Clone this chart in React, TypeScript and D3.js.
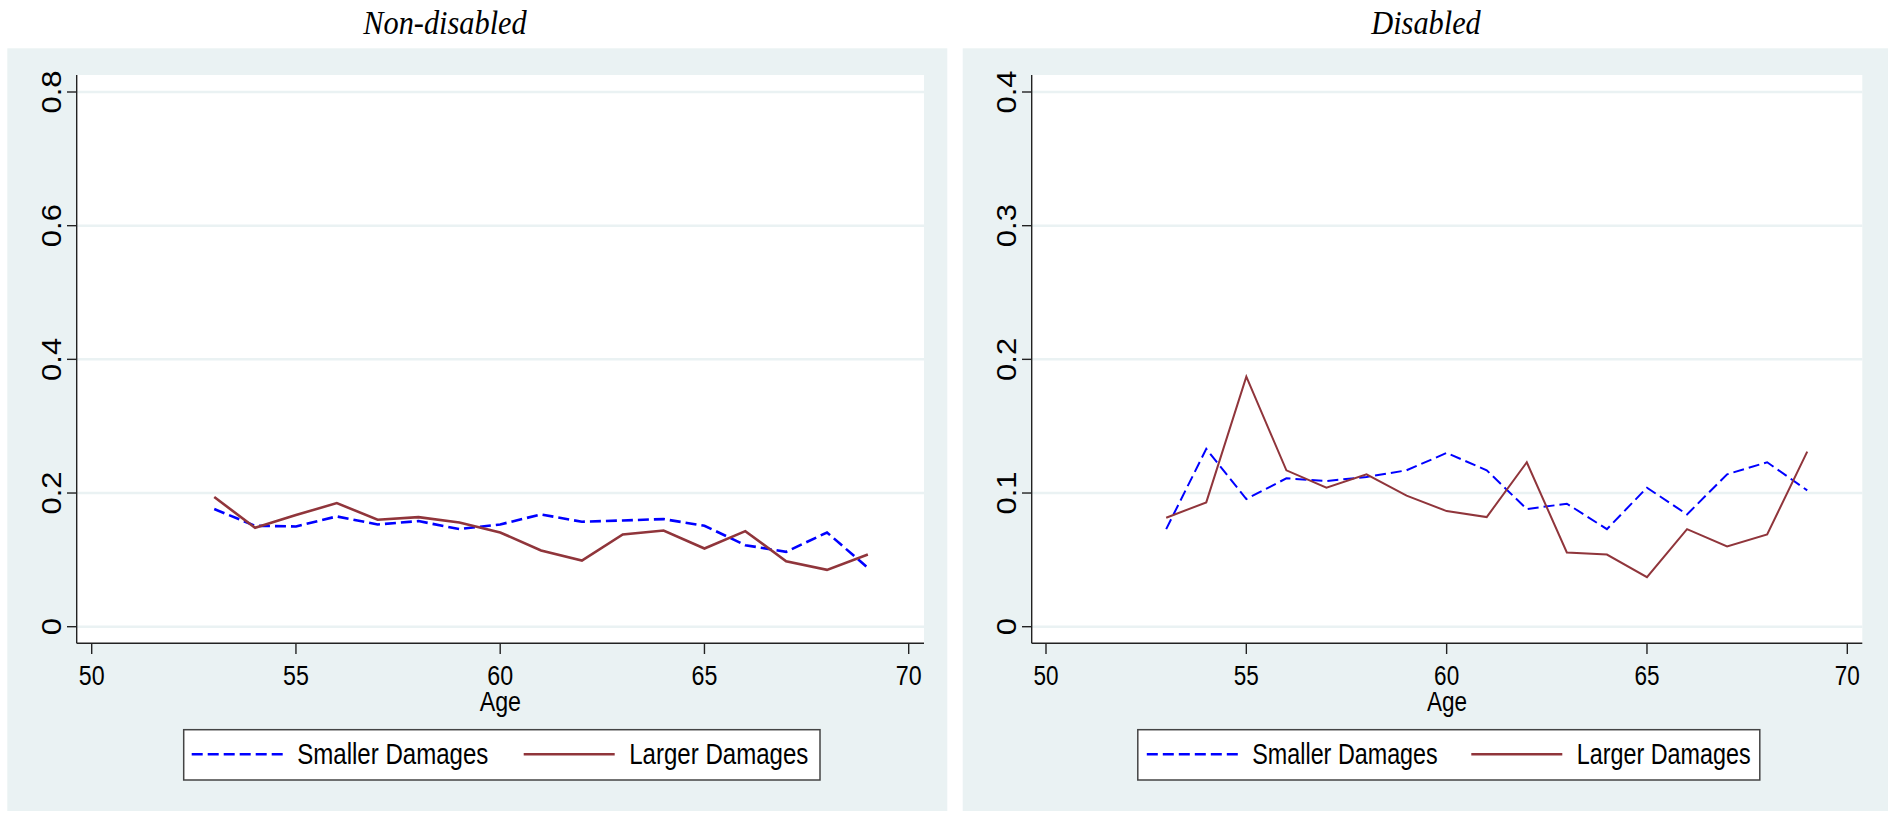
import React from "react";
import { scaleLinear, line } from "d3";

const ages = [53, 54, 55, 56, 57, 58, 59, 60, 61, 62, 63, 64, 65, 66, 67, 68, 69];

const nonDisabledSmaller = [0.176, 0.151, 0.15, 0.165, 0.153, 0.158, 0.146, 0.153, 0.168, 0.157, 0.159, 0.161, 0.151, 0.122, 0.112, 0.141, 0.088];
const nonDisabledLarger = [0.194, 0.148, 0.167, 0.185, 0.16, 0.164, 0.156, 0.141, 0.114, 0.099, 0.138, 0.144, 0.117, 0.143, 0.098, 0.085, 0.108];
const disabledSmaller = [0.073, 0.133, 0.0955, 0.111, 0.109, 0.112, 0.117, 0.13, 0.117, 0.088, 0.092, 0.073, 0.104, 0.084, 0.114, 0.123, 0.102];
const disabledLarger = [0.0815, 0.093, 0.187, 0.117, 0.104, 0.114, 0.098, 0.0865, 0.082, 0.123, 0.0555, 0.054, 0.037, 0.073, 0.06, 0.069, 0.131];

const xTicks = [50, 55, 60, 65, 70];
const nonDisabledYTicks = [0, 0.2, 0.4, 0.6, 0.8];
const disabledYTicks = [0, 0.1, 0.2, 0.3, 0.4];
const seriesNames = ["Smaller Damages", "Larger Damages"];
const panelTitles = ["Non-disabled", "Disabled"];

const BG = "#EAF2F3";
const BLUE = "#0000FF";
const RED = "#90353B";
const SANS = "'Liberation Sans', Arial, sans-serif";
const SERIF = "'Liberation Serif', 'Times New Roman', serif";

const panels = [
  {
    title: panelTitles[0],
    titleX: 445,
    bgX: 7.3,
    bgW: 940,
    x0: 76.7,
    x1: 924,
    xRange: [91.7, 908.7],
    yMax: 0.8,
    yTicks: nonDisabledYTicks,
    smaller: nonDisabledSmaller,
    larger: nonDisabledLarger,
    sx: 0.83,
    lw: 2.6,
    legend: { x: 183.7, w: 636.3, items: [8, 340] },
  },
  {
    title: panelTitles[1],
    titleX: 1426,
    bgX: 962.7,
    bgW: 925.3,
    x0: 1031.7,
    x1: 1862.3,
    xRange: [1046, 1847.3],
    yMax: 0.4,
    yTicks: disabledYTicks,
    smaller: disabledSmaller,
    larger: disabledLarger,
    sx: 0.805,
    lw: 2,
    legend: { x: 1137.8, w: 622, items: [9, 333.5] },
  },
];

const yTop = 75;
const yAxis = 643.3;
const yRange = [626.7, 92];

function fmt(v: number) {
  return v === 0 ? "0" : String(Number(v.toFixed(2)));
}

function Panel({ p }: { p: (typeof panels)[number] }) {
  const x = scaleLinear().domain([50, 70]).range(p.xRange);
  const y = scaleLinear().domain([0, p.yMax]).range(yRange);
  const path = line<number>()
    .x((_, i) => x(ages[i]))
    .y((d) => y(d));
  const cx = (p.x0 + p.x1) / 2;
  const lg = p.legend;
  const ly = 754.3;

  return (
    <g>
      <rect x={p.bgX} y={48.3} width={p.bgW} height={762.7} fill={BG} />
      <text
        transform={`translate(${p.titleX},33.5) scale(0.92,1)`}
        textAnchor="middle"
        fontFamily={SERIF}
        fontStyle="italic"
        fontSize={33}
      >
        {p.title}
      </text>
      <rect x={p.x0} y={yTop} width={p.x1 - p.x0} height={yAxis - yTop} fill="#fff" />
      {p.yTicks.map((t) => (
        <line key={t} x1={p.x0} x2={p.x1} y1={y(t)} y2={y(t)} stroke={BG} strokeWidth={2.5} />
      ))}
      <path d={path(p.smaller) ?? ""} fill="none" stroke={BLUE} strokeWidth={p.lw} strokeDasharray="11 5" />
      <path d={path(p.larger) ?? ""} fill="none" stroke={RED} strokeWidth={p.lw} />
      <line x1={p.x0} x2={p.x0} y1={yTop} y2={yAxis} stroke="#222" strokeWidth={1.4} />
      <line x1={p.x0} x2={p.x1} y1={yAxis} y2={yAxis} stroke="#222" strokeWidth={1.4} />
      {p.yTicks.map((t) => (
        <g key={t}>
          <line x1={p.x0 - 9.7} x2={p.x0} y1={y(t)} y2={y(t)} stroke="#222" strokeWidth={1.4} />
          <text
            transform={`translate(${p.x0 - 16},${y(t)}) rotate(-90) scale(1,0.88)`}
            textAnchor="middle"
            fontFamily={SANS}
            fontSize={31}
          >
            {fmt(t)}
          </text>
        </g>
      ))}
      {xTicks.map((t) => (
        <g key={t}>
          <line x1={x(t)} x2={x(t)} y1={yAxis} y2={yAxis + 10.7} stroke="#222" strokeWidth={1.4} />
          <text
            transform={`translate(${x(t)},684.5) scale(${p.sx},1)`}
            textAnchor="middle"
            fontFamily={SANS}
            fontSize={28}
          >
            {t}
          </text>
        </g>
      ))}
      <text
        transform={`translate(${cx},711) scale(${p.sx},1)`}
        textAnchor="middle"
        fontFamily={SANS}
        fontSize={28}
      >
        Age
      </text>
      <rect x={lg.x} y={729.7} width={lg.w} height={50.3} fill="#fff" stroke="#444" strokeWidth={1.5} />
      {seriesNames.map((name, i) => (
        <g key={name}>
          <line
            x1={lg.x + lg.items[i]}
            x2={lg.x + lg.items[i] + 91}
            y1={ly}
            y2={ly}
            stroke={i === 0 ? BLUE : RED}
            strokeWidth={2.6}
            strokeDasharray={i === 0 ? "11 5" : undefined}
          />
          <text
            transform={`translate(${lg.x + lg.items[i] + 105.5},${ly + 10}) scale(${p.sx},1)`}
            fontFamily={SANS}
            fontSize={29}
          >
            {name}
          </text>
        </g>
      ))}
    </g>
  );
}

export default function App() {
  return (
    <svg
      width={1890}
      height={813}
      style={{ position: "absolute", left: 0, top: 0, background: "#fff" }}
    >
      {panels.map((p) => (
        <Panel key={p.title} p={p} />
      ))}
    </svg>
  );
}
